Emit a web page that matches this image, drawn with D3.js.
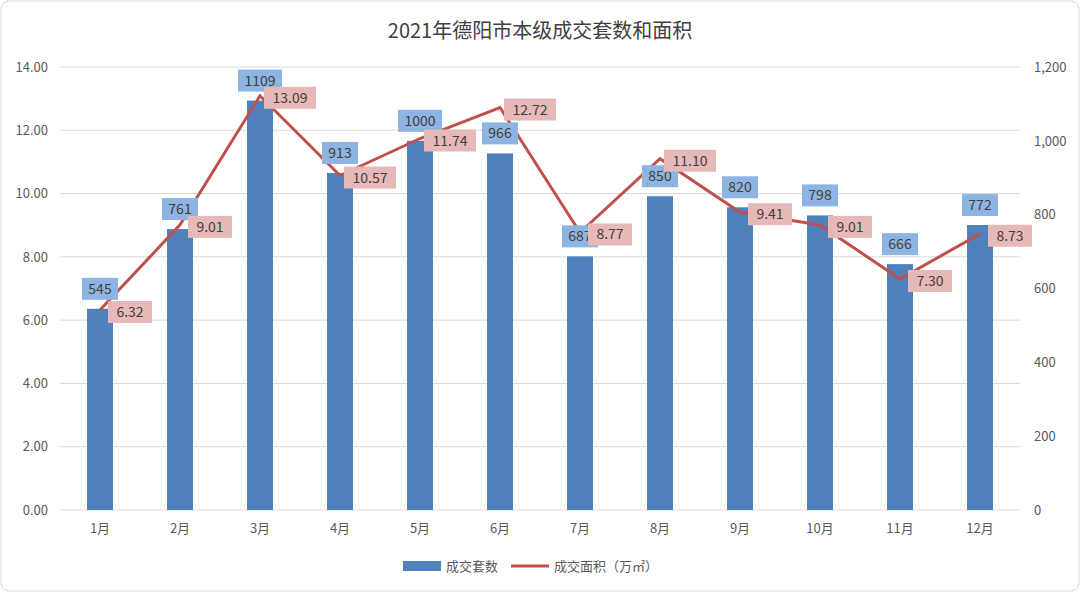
<!DOCTYPE html>
<html><head><meta charset="utf-8">
<script src="https://cdn.jsdelivr.net/npm/d3@7"></script>
<style>body{margin:0;background:#fff;font-family:"Noto Sans CJK SC","Noto Sans",sans-serif}</style>
</head><body><div id="wrapper"></div>
<script>
const months = ["1月","2月","3月","4月","5月","6月","7月","8月","9月","10月","11月","12月"];
const counts = [545,761,1109,913,1000,966,687,850,820,798,666,772];
const areas = [6.32,9.01,13.09,10.57,11.74,12.72,8.77,11.10,9.41,9.01,7.30,8.73];
const leftTicks = [0,2,4,6,8,10,12,14];
const rightTicks = [0,200,400,600,800,1000,1200];

const width = 1080, height = 592;
const m = {top: 67, right: 60, bottom: 82, left: 60};
const bw = width - m.left - m.right, bh = height - m.top - m.bottom;

const svg = d3.select("#wrapper").append("svg").attr("width", width).attr("height", height);
svg.append("rect").attr("x",1).attr("y",1).attr("width",width-2).attr("height",height-2)
  .attr("rx",8).attr("fill","#fff").attr("stroke","#d9d9d9");
svg.append("text").attr("x",width/2).attr("y",38).attr("text-anchor","middle")
  .attr("font-size",20).attr("fill","#404040").text("2021年德阳市本级成交套数和面积");

const g = svg.append("g").attr("transform",`translate(${m.left},${m.top})`);
const x = d3.scaleBand().domain(months).range([0,bw]);
const yL = d3.scaleLinear().domain([0,14]).range([bh,0]);
const yR = d3.scaleLinear().domain([0,1200]).range([bh,0]);

g.selectAll(".grid").data(leftTicks).join("line")
  .attr("x1",0).attr("x2",bw).attr("y1",d=>yL(d)).attr("y2",d=>yL(d))
  .attr("stroke","#d9d9d9");

const axL = g.append("g").call(d3.axisLeft(yL).tickValues(leftTicks).tickFormat(d3.format(".2f")).tickSize(0).tickPadding(12));
const axR = g.append("g").attr("transform",`translate(${bw},0)`).call(d3.axisRight(yR).tickValues(rightTicks).tickSize(0).tickPadding(14));
const axB = g.append("g").attr("transform",`translate(0,${bh})`).call(d3.axisBottom(x).tickSize(0).tickPadding(14));
[axL,axR,axB].forEach(a=>{a.select(".domain").remove();a.selectAll("text").attr("font-size",13).attr("fill","#595959").attr("font-family","'Noto Sans CJK SC',sans-serif");});

const barW = 26;
g.selectAll(".bar").data(counts).join("rect")
  .attr("x",(d,i)=>x(months[i])+x.bandwidth()/2-barW/2).attr("width",barW)
  .attr("y",d=>yR(d)).attr("height",d=>bh-yR(d)).attr("fill","#4f81bd");

const line = d3.line().x((d,i)=>x(months[i])+x.bandwidth()/2).y(d=>yL(d));
g.append("path").attr("d",line(areas)).attr("fill","none").attr("stroke","#c0504d").attr("stroke-width",3);

function label(cx, cy, txt, fill){
  const w = txt.length*8+12;
  g.append("rect").attr("x",cx-w/2).attr("y",cy-11).attr("width",w).attr("height",22).attr("fill",fill);
  g.append("text").attr("x",cx).attr("y",cy+5).attr("text-anchor","middle").attr("font-size",14).attr("fill","#404040").text(txt);
}
counts.forEach((d,i)=>label(x(months[i])+x.bandwidth()/2, yR(d)-20, String(d), "#8db4e2"));
areas.forEach((d,i)=>label(x(months[i])+x.bandwidth()/2+30, yL(d)+2, d.toFixed(2), "#e6b9b8"));

const lg = svg.append("g").attr("transform","translate(403,566)");
lg.append("rect").attr("x",0).attr("y",-5).attr("width",38).attr("height",10).attr("fill","#4f81bd");
lg.append("text").attr("x",43).attr("y",5).attr("font-size",13).attr("fill","#595959").text("成交套数");
lg.append("line").attr("x1",108).attr("x2",146).attr("y1",0).attr("y2",0).attr("stroke","#c0504d").attr("stroke-width",3);
lg.append("text").attr("x",151).attr("y",5).attr("font-size",13).attr("fill","#595959").text("成交面积（万㎡）");
</script></body></html>
